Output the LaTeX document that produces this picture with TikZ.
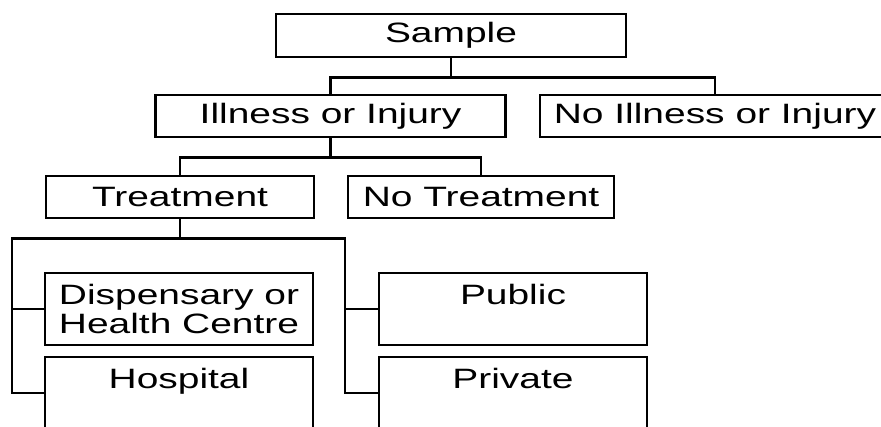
\documentclass[tikz,border=0pt]{standalone}
\usepackage{fontspec}
\setmainfont{Liberation Sans}[FakeStretch=1.39]
\begin{document}
\begin{tikzpicture}[x=1pt,y=-1pt,line width=2.5pt,
 box/.style={draw,minimum height=42pt,font=\fontsize{28}{29}\selectfont},
 tallbox/.style={box,minimum width=268pt,minimum height=72pt,align=center}]
 \useasboundingbox (0,0) rectangle (881,426);
 \clip (0,0) rectangle (881,426);
 \node[box,minimum width=350pt,minimum height=43pt] (smp) at (451,35.5) {Sample};
 \node[box,minimum width=350pt] (ill) at (330.6,116) {Illness or Injury};
 \node[box,minimum width=350pt] (noill) at (715,116) {No Illness or Injury};
 \node[box,minimum width=268pt] (trt) at (180,197) {Treatment};
 \node[box,minimum width=266pt] (notrt) at (481,197) {No Treatment};
 \node[tallbox] (disp) at (179,309) {Dispensary or\\Health Centre};
 \node[tallbox] (hosp) at (179,393) {Hospital\\\mbox{}};
 \node[tallbox] (pub) at (513,309) {Public\\\mbox{}};
 \node[tallbox] (priv) at (513,393) {Private\\\mbox{}};
 \draw (smp.south) -- ++(0,19) -| (ill.north); \draw (smp.south) -- ++(0,19) -| (noill.north);
 \draw (ill.south) -- ++(0,19) -| (trt.north); \draw (ill.south) -- ++(0,19) -| (notrt.north);
 \draw (trt.south) -- ++(0,19) coordinate (fork);
 \draw (fork) -| ([xshift=-32pt]disp.west) |- (disp.west); \draw ([xshift=-32pt]disp.west) |- (hosp.west);
 \draw (fork) -| ([xshift=-33pt]pub.west) |- (pub.west); \draw ([xshift=-33pt]pub.west) |- (priv.west);
\end{tikzpicture}
\end{document}
